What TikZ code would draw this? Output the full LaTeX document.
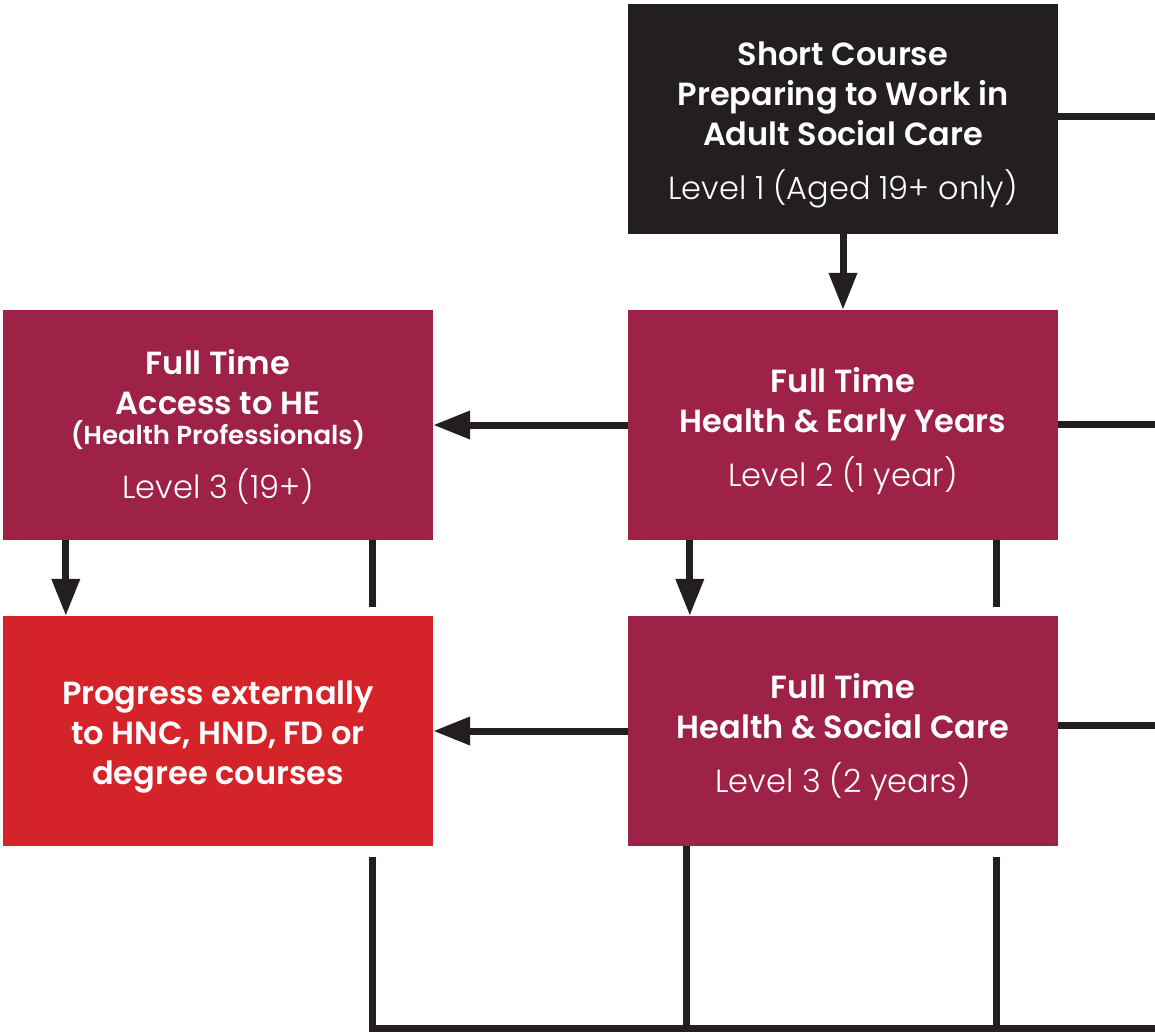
\documentclass[tikz,border=0pt]{standalone}
\usepackage{fontspec}
\setmainfont{Poppins}[UprightFont=* Light, BoldFont=* SemiBold]
\usetikzlibrary{arrows.meta}
\definecolor{dark}{RGB}{35,31,32}
\definecolor{maroon}{RGB}{158,33,72}
\definecolor{redbox}{RGB}{212,36,42}
\tikzset{
  box/.style={minimum width=430pt, minimum height=230pt, inner sep=0pt},
  txt/.style={inner sep=0pt, text=white, align=center, yshift=-6pt,
    font=\fontsize{32}{40}\selectfont},
  conn/.style={draw=dark, line width=7pt},
  arr/.style={conn, -{Triangle[length=37pt,width=27pt]}},
}
\newcommand{\lvl}[1]{\\[14pt]\mdseries #1}
\begin{document}
\begin{tikzpicture}[x=1pt,y=-1pt]
\useasboundingbox (0,0) rectangle (1155,1032);
\fill[white] (0,0) rectangle (1155,1032);
% boxes
\node[box, fill=dark] (sc) at (843,119) {};
\node[box, fill=maroon] (hey) at (843,425) {};
\node[box, fill=maroon] (acc) at (218,425) {};
\node[box, fill=redbox] (red) at (218,731) {};
\node[box, fill=maroon] (hsc) at (843,731) {};
% texts
\node[txt] (sct) at (sc.center) {\bfseries Short Course\\\bfseries Preparing to Work in\\\bfseries Adult Social Care\lvl{Level 1 (Aged 19+ only)}};
\node[txt] (heyt) at (hey.center) {\bfseries Full Time\\\bfseries Health \& Early Years\lvl{Level 2 (1 year)}};
\node[txt, yshift=4pt] (acct) at (acc.center) {\bfseries Full Time\\\bfseries Access to HE\\[-10pt]{\fontsize{26}{30}\selectfont\bfseries (Health Professionals)}\lvl{Level 3 (19+)}};
\node[txt] (redt) at (red.center) {\bfseries Progress externally\\\bfseries to HNC, HND, FD or\\\bfseries degree courses};
\node[txt] (hsct) at (hsc.center) {\bfseries Full Time\\\bfseries Health \& Social Care\lvl{Level 3 (2 years)}};
% free ends
\coordinate (r1) at (1155,117);
\coordinate (r2) at (1155,424);
\coordinate (r3) at (1155,725);
\coordinate (s1) at (372,607);
\coordinate (s2) at (996,607);
\coordinate (b1) at (372,857);
\coordinate (b2) at (686,1028);
\coordinate (b3) at (996,857);
\coordinate (bc) at (1155,1028);
% arrows
\draw[arr] (sc.south) -- (hey.north);
\draw[arr] (hey.west) -- (acc.east);
\draw[arr] (hsc.west) -- (red.east);
\draw[arr] ([xshift=63pt]acc.south west) -- ([xshift=63pt]red.north west);
\draw[arr] ([xshift=62pt]hey.south west) -- ([xshift=62pt]hsc.north west);
% plain lines
\draw[conn] (sc.east |- r1) -- (r1);
\draw[conn] (hey.east |- r2) -- (r2);
\draw[conn] (hsc.east |- r3) -- (r3);
\draw[conn] (acc.south -| s1) -- (s1);
\draw[conn] (hey.south -| s2) -- (s2);
\draw[conn] (b1) -- (b1 |- bc) -- (bc);
\draw[conn] (hsc.south -| b2) -- (b2);
\draw[conn] (b3) -- (b3 |- bc);
\end{tikzpicture}
\end{document}
